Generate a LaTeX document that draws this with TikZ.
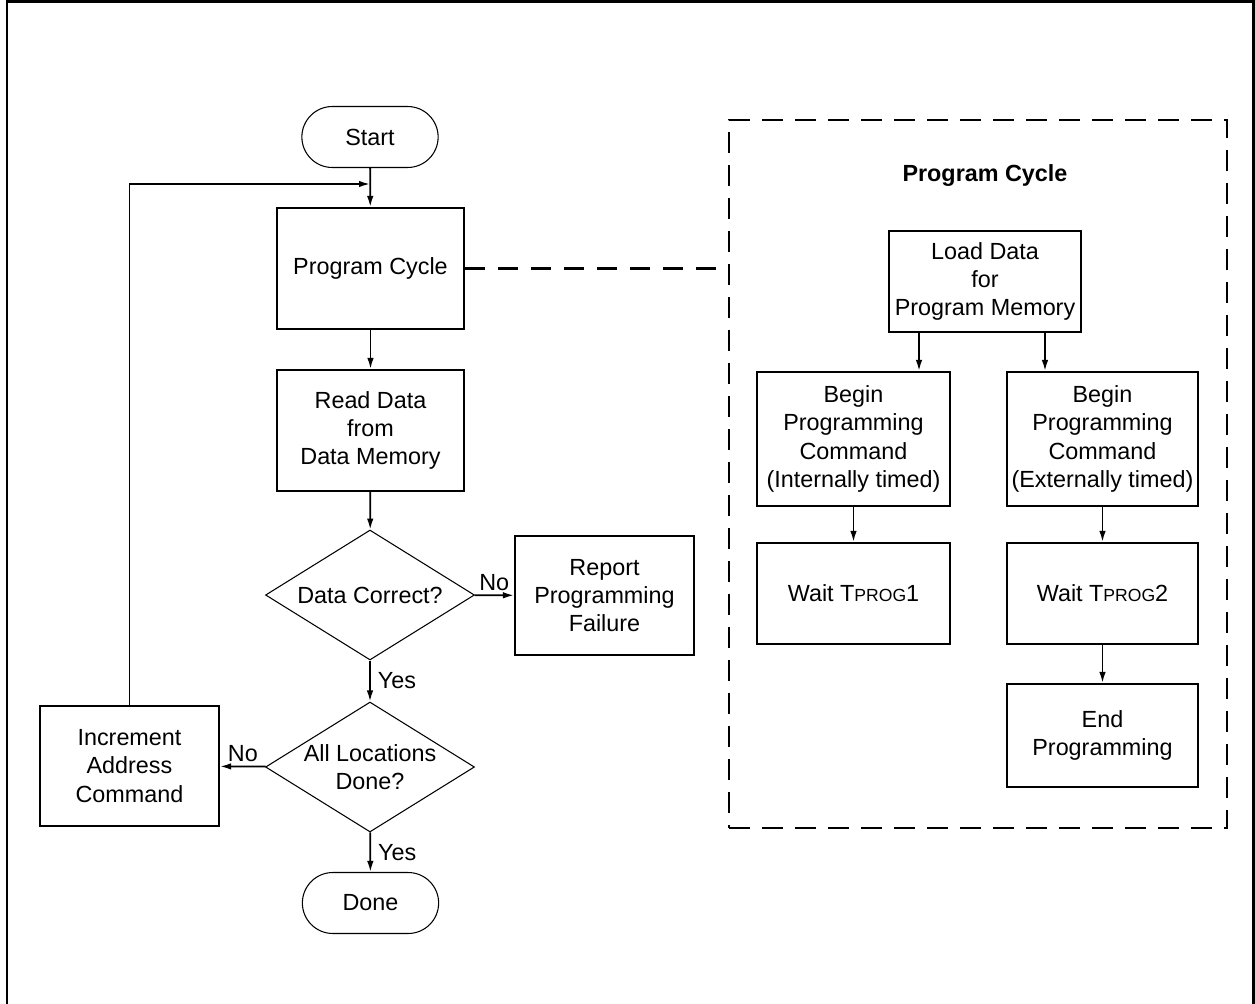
\documentclass[tikz,border=0pt]{standalone}
\usepackage{fontspec}
\setmainfont{Liberation Sans}
\usetikzlibrary{shapes}
\usetikzlibrary{positioning}
\usetikzlibrary{arrows.meta}
\tikzset{
    stepbox/.style = {rectangle, draw=black, line width=1.2pt, align=center, inner sep=1pt},
    termnode/.style = {rounded rectangle, draw=black, line width=0.6pt, minimum width=2.96cm, minimum height=1.22cm},
    decnode/.style = {diamond, draw=black, line width=0.6pt, align=center, inner sep=0pt, aspect=1.6, minimum width=4.18cm, minimum height=2.6cm},
    edgen/.style = {-{Latex[length=2.2mm,width=1.3mm]}, line width=1pt},
    edgedash/.style = {line width=1.2pt, dash pattern=on 0.4cm off 0.26cm}, % link to cycle
    lbl/.style = {inner sep=1pt, font=\fontsize{13.3}{15}\selectfont},
    tprog/.style = {font=\fontsize{10}{11}\selectfont}
}

\begin{document}
\begin{tikzpicture}[
  x=0.02cm, y=-0.02cm,
  font=\fontsize{13.3}{16}\selectfont]
  \useasboundingbox (0,0) rectangle (1255,1004);
  \draw[line width=1.7pt] (7,1004) -- (7,1.5) -- (1253.5,1.5) -- (1253.5,1004);

  % main flow
  \node[termnode] (start) at (370,137) {Start};
  \node[stepbox, minimum width=3.74cm, minimum height=2.42cm] (pc) at (370.5,268.5) {Program Cycle};
  \node[stepbox, minimum width=3.74cm, minimum height=2.42cm] (rd) at (370.5,430.5) {Read Data\\from\\Data Memory};
  \node[decnode] (dc) at (370,595) {Data Correct?};
  \node[stepbox, minimum width=3.58cm, minimum height=2.38cm] (rf) at (604.5,595.5) {Report\\Programming\\Failure};
  \node[decnode] (al) at (370,767) {All Locations\\Done?};
  \node[stepbox, minimum width=3.58cm, minimum height=2.4cm] (inc) at (129.5,766) {Increment\\Address\\Command};
  \node[termnode] (done) at (370.5,903) {Done};
  \coordinate (join) at (370,184);

  % program cycle detail
  \node[stepbox, dash pattern=on 0.42cm off 0.24cm, line width=1.2pt, minimum width=9.96cm, minimum height=14.16cm] (cyc) at (978,474) {};
  \node[font=\bfseries\fontsize{13.3}{15}\selectfont] (cyct) at (985,176) {Program Cycle};
  \node[stepbox, minimum width=3.84cm, minimum height=2.02cm] (ld) at (985,281.5) {Load Data\\for\\Program Memory};
  \node[stepbox, minimum width=3.86cm, minimum height=2.68cm] (bi) at (853.5,439) {Begin\\Programming\\Command\\(Internally timed)};
  \node[stepbox, minimum width=3.82cm, minimum height=2.68cm] (be) at (1102.5,439) {Begin\\Programming\\Command\\(Externally timed)};
  \node[stepbox, minimum width=3.86cm, minimum height=2.02cm] (w1) at (853.5,593.5) {Wait T{\fontsize{10}{11}\selectfont PROG}1};
  \node[stepbox, minimum width=3.82cm, minimum height=2.02cm] (w2) at (1102.5,593.5) {Wait T{\fontsize{10}{11}\selectfont PROG}2};
  \node[stepbox, minimum width=3.82cm, minimum height=2.06cm] (ep) at (1102.5,735.5) {End\\Programming};

  \draw[edgen] (start) -- (pc);
  \draw[edgen] (inc.north) |- (join);
  \draw[edgen] (pc) -- (rd);
  \draw[edgen] (rd) -- (dc);
  \draw[edgen] (dc) -- node[lbl, above=1pt] {No} (rf);
  \draw[edgen] (dc) -- node[lbl, right=3pt] {Yes} (al);
  \draw[edgen] (al) -- node[lbl, above=1pt] {No} (inc);
  \draw[edgen] (al) -- node[lbl, right=3pt] {Yes} (done);
  \draw[edgedash] (pc.east) -- (pc.east -| cyc.west);

  \draw[edgen] ([xshift=-1.32cm]ld.south) -- ([xshift=-1.32cm]ld.south |- bi.north);
  \draw[edgen] ([xshift=1.2cm]ld.south) -- ([xshift=1.2cm]ld.south |- be.north);
  \draw[edgen] (bi) -- (w1);
  \draw[edgen] (be) -- (w2);
  \draw[edgen] (w2) -- (ep);
\end{tikzpicture}
\end{document}
